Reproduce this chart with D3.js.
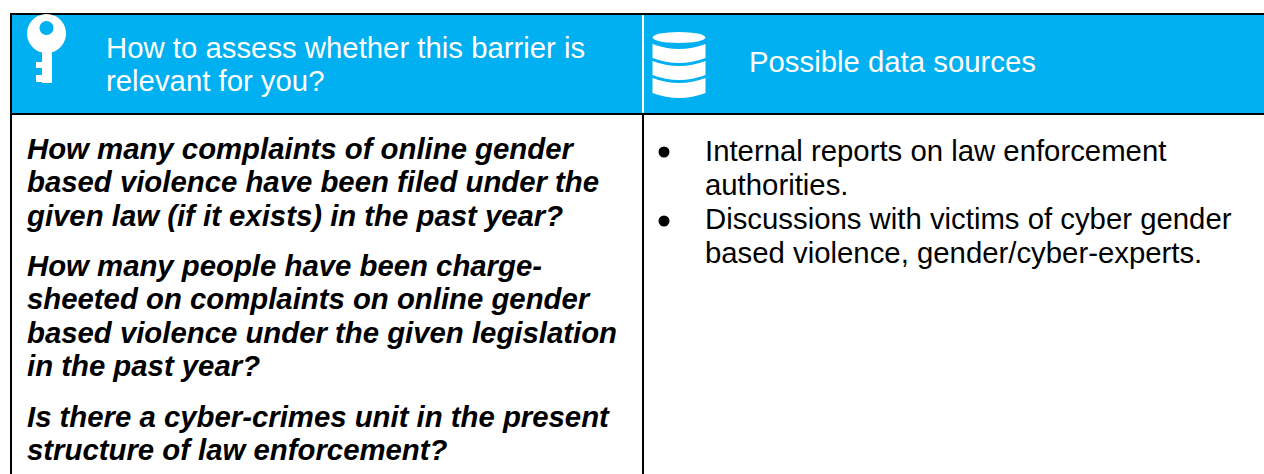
<!DOCTYPE html>
<html><head><meta charset="utf-8">
<script src="https://cdn.jsdelivr.net/npm/d3@7"></script>
<style>html,body{margin:0;padding:0;background:#fff;overflow:hidden}svg{display:block}text{font-family:"Liberation Sans",Arial,sans-serif;}</style>
</head><body><svg id="c" width="1264" height="474"></svg>
<script>
const headerLeft = ["How to assess whether this barrier is", "relevant for you?"];
const headerRight = ["Possible data sources"];
const questions = [
  {y0:159, lines:["How many complaints of online gender","based violence have been filed under the","given law (if it exists) in the past year?"]},
  {y0:276, lines:["How many people have been charge-","sheeted on complaints on online gender","based violence under the given legislation","in the past year?"]},
  {y0:427, lines:["Is there a cyber-crimes unit in the present","structure of law enforcement?"]}
];
const bullets = [
  {y0:161, lines:["Internal reports on law enforcement","authorities."]},
  {y0:229, lines:["Discussions with victims of cyber gender","based violence, gender/cyber-experts."]}
];
const BLUE="#00b0f0", SIZE=29.33;
const svg=d3.select("#c");
svg.append("defs").append("filter").attr("id","soft").append("feGaussianBlur").attr("stdDeviation",0.7);
svg.append("rect").attr("x",10).attr("y",13).attr("width",1254).attr("height",102).attr("fill","#000");
svg.append("rect").attr("x",12).attr("y",15).attr("width",1252).attr("height",98).attr("fill",BLUE);
svg.append("rect").attr("x",10).attr("y",115).attr("width",2).attr("height",359).attr("fill","#000");
svg.append("rect").attr("x",642).attr("y",15).attr("width",2).attr("height",98).attr("fill","#fff");
svg.append("rect").attr("x",642).attr("y",115).attr("width",2).attr("height",359).attr("fill","#000");

function lines(g,arr,x,y0,lh){
  g.selectAll(null).data(arr).enter().append("text")
   .attr("x",x).attr("y",(d,i)=>y0+i*lh).attr("font-size",SIZE).text(d=>d);
}
const hdr=svg.append("g").attr("fill","#fff");
lines(hdr,headerLeft,106,58,33);
lines(hdr,headerRight,749,72,33);

// key icon
const key=svg.append("g").attr("fill","#fff").attr("filter","url(#soft)");
key.append("path").attr("fill-rule","evenodd").attr("d","M46.5 14a19.5 19.5 0 1 0 0.01 0Z M46.5 21a7 7 0 1 1 -0.01 0Z");
key.append("rect").attr("x",42).attr("y",48).attr("width",10).attr("height",35);
key.append("rect").attr("x",36).attr("y",62).attr("width",6).attr("height",6);
key.append("rect").attr("x",36).attr("y",75).attr("width",6).attr("height",7);

// database icon
const db=svg.append("g").attr("fill","#fff").attr("filter","url(#soft)");
db.append("ellipse").attr("cx",679).attr("cy",37.5).attr("rx",26.5).attr("ry",5.5);
const segs=[[44,58],[61,75],[78,93]];
segs.forEach(([a,b])=>{
  db.append("path").attr("d",`M652.5 ${a} Q679 ${a+10} 705.5 ${a} V${b} Q679 ${b+10} 652.5 ${b} Z`);
});

const body=svg.append("g").attr("fill","#000");
questions.forEach(q=>{
  const g=body.append("g").attr("font-weight","bold").attr("font-style","italic");
  lines(g,q.lines,27,q.y0,33.4);
});
bullets.forEach((b,i)=>{
  body.append("circle").attr("cx",664).attr("cy",b.y0-9+i).attr("r",5.5);
  lines(body,b.lines,705,b.y0,34);
});
</script></body></html>
